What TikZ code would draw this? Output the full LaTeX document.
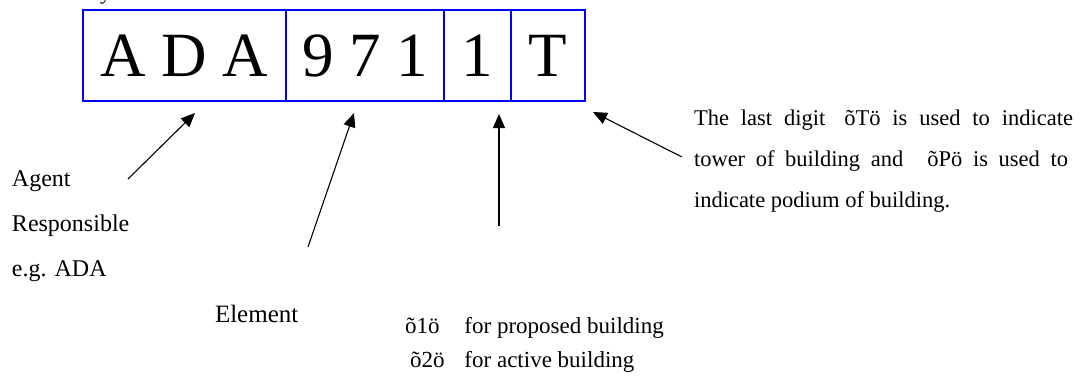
\documentclass[tikz,border=0pt]{standalone}
\usepackage{fontspec}
\setmainfont{Liberation Serif}
\usetikzlibrary{arrows.meta,positioning}
\definecolor{codeBlue}{RGB}{0,0,255}

\begin{document}
\begin{tikzpicture}[x=1pt,y=-1pt,
  every node/.style={inner sep=0pt,outer sep=0pt},
  cell/.style={draw=codeBlue,line width=1.6pt,minimum height=91pt,font=\fontsize{63}{63}\selectfont},
  lbl/.style={align=left,anchor=base west},
  arr/.style={line width=1.1pt,-{Triangle[length=14pt,width=12pt]}}
]
\useasboundingbox (0,0) rectangle (1089,381);
\node[anchor=base west,font=\fontsize{22}{22}\selectfont] (cut) at (100,-1) {y};

% code boxes
\node[cell,minimum width=203pt,anchor=north west] (ada) at (83,10) {A D A};
\node[cell,minimum width=158pt,right=0pt of ada] (num) {9 7 1};
\node[cell,minimum width=67pt,right=0pt of num] (stat) {1};
\node[cell,minimum width=74pt,right=0pt of stat] (part) {T};

% labels (base = last line)
\node[lbl,font=\fontsize{24}{45}\selectfont] (agent) at (12,276)
  {Agent\\Responsible\\e.g. ADA};
\node[lbl,font=\fontsize{25}{25}\selectfont] (elem) at (215,322) {Element};
\node[lbl,font=\fontsize{23}{34}\selectfont] (bldg) at (405,367)
  {õ1ö\hspace{25pt}for proposed building\\
   \hspace{5pt}õ2ö\hspace{20pt}for active building};
\node[lbl,font=\fontsize{22.5}{41}\selectfont] (tower) at (694,207)
  {\makebox[379pt][s]{The last digit\hspace{19pt}õTö is used to indicate}\\
   \makebox[374pt][s]{tower of building and\hspace{24pt}õPö is used to}\\
   indicate podium of building.};

% pointers
\coordinate (agentTail) at (128,179);
\coordinate (agentTip)  at (195,113);
\coordinate (elemTail)  at (308,247);
\coordinate (elemTip)   at (354,113);
\coordinate (bldgTail)  at (499,226);
\coordinate (bldgTip)   at (499,114);
\coordinate (towerTail) at (682,157);
\coordinate (towerTip)  at (593,112);
\draw[arr] (agentTail) -- (agentTip);
\draw[arr] (elemTail) -- (elemTip);
\draw[arr] (bldgTail) -- (bldgTip);
\draw[arr] (towerTail) -- (towerTip);
\end{tikzpicture}
\end{document}
